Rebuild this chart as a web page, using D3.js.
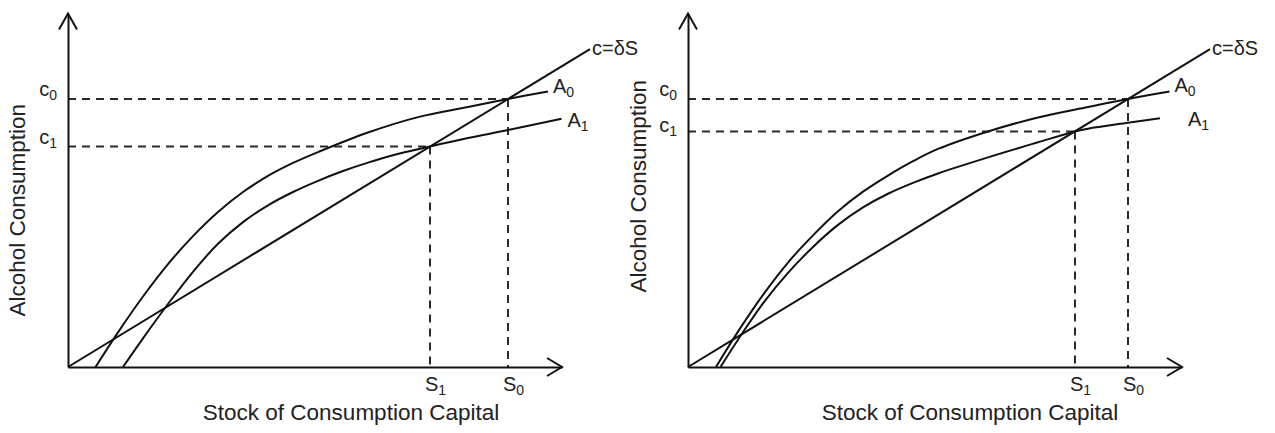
<!DOCTYPE html>
<html>
<head>
<meta charset="utf-8">
<script src="https://cdn.jsdelivr.net/npm/d3@7"></script>
<style>
  html, body { margin: 0; padding: 0; background: #fff; }
  svg { display: block; }
  text { font-family: "Liberation Sans", Arial, sans-serif; fill: #222; }
</style>
</head>
<body>
<svg id="chart" width="1275" height="433"></svg>
<script>
// Shared model: consumption line c = δS and the two addiction curves A0, A1
const delta = 0.87;
const lineEnd = 10.44;          // where the c = δS ray stops
const xMax = 9.88;              // length of the stock axis
const yMax = 10.1;              // height of the consumption axis

// Left panel: large downward shift of A
const leftS = [7.24, 8.8];                 // S1, S0
const leftC = [6.3, 7.66];                 // c1, c0
const leftA0x = [0.55, 1.0, 1.5, 2.0, 2.5, 3.0, 3.5, 4.0, 4.5, 5.0, 6.0, 7.0, 8.0, 8.8, 9.6];
const leftA0y = [0, 0.99, 2.015, 2.94, 3.74, 4.43, 5.0, 5.46, 5.83, 6.14, 6.7, 7.14, 7.43, 7.66, 7.87];
const leftA1x = [1.1, 1.5, 2.0, 2.5, 3.0, 3.5, 4.0, 4.5, 5.0, 5.5, 6.0, 6.5, 7.0, 7.24, 8.0, 8.8, 9.87];
const leftA1y = [0, 0.82, 1.8, 2.72, 3.52, 4.14, 4.62, 5.0, 5.32, 5.6, 5.84, 6.05, 6.22, 6.3, 6.54, 6.77, 7.09];

// Right panel: small downward shift of A
const rightS = [7.74, 8.8];
const rightC = [6.73, 7.66];
const rightA0x = [0.56, 1.0, 1.5, 2.0, 2.5, 3.0, 3.5, 4.0, 4.5, 5.0, 6.0, 7.0, 8.0, 8.8, 9.63];
const rightA0y = [0, 1.01, 2.06, 2.985, 3.76, 4.45, 5.01, 5.47, 5.88, 6.23, 6.73, 7.13, 7.43, 7.66, 7.87];
const rightA1x = [0.65, 1.0, 1.5, 2.0, 2.5, 3.0, 3.5, 4.0, 4.5, 5.0, 6.0, 7.0, 7.74, 8.0, 8.8, 9.44];
const rightA1y = [0, 0.78, 1.82, 2.69, 3.43, 4.06, 4.56, 4.95, 5.26, 5.53, 5.99, 6.42, 6.73, 6.81, 6.98, 7.11];

const sLabels = ["1", "0"];   // subscripts for S1, S0
const cLabels = ["1", "0"];   // subscripts for c1, c0
const curveNames = ["0", "1"];
const yTitle = "Alcohol Consumption";
const xTitle = "Stock of Consumption Capital";
const lineName = "c=δS";

const svg = d3.select("#chart");

const x = d3.scaleLinear().domain([0, 10]).range([0, 500]);
const y = d3.scaleLinear().domain([0, 10]).range([0, -350]);

const ink = "#111";
const dashInk = "#2a2a2a";
const labelSize = 20, subSize = 14, titleSize = 22.5;

function drawPanel(ox, oy, S, C, A0x, A0y, A1x, A1y, opt) {
  const g = svg.append("g").attr("transform", `translate(${ox},${oy})`);

  // dashed guides from the equilibria to both axes
  S.forEach((s, i) => {
    g.append("line")
      .attr("x1", x(0)).attr("x2", x(s))
      .attr("y1", y(C[i])).attr("y2", y(C[i]))
      .attr("stroke", dashInk).attr("stroke-width", 2).attr("stroke-dasharray", "8,6");
    g.append("line")
      .attr("x1", x(s)).attr("x2", x(s))
      .attr("y1", y(C[i])).attr("y2", y(0))
      .attr("stroke", dashInk).attr("stroke-width", 2).attr("stroke-dasharray", "8,6");
  });

  // axes
  const xs = x.copy().domain([0, xMax]).range([x(0), x(xMax)]);
  const ys = y.copy().domain([0, yMax]).range([y(0), y(yMax)]);
  const xAxis = g.append("g")
    .call(d3.axisBottom(xs).tickValues(S).tickSize(0).tickSizeOuter(0).tickFormat(""));
  const yAxis = g.append("g")
    .call(d3.axisLeft(ys).tickValues(C).tickSize(0).tickSizeOuter(0).tickFormat(""));
  [xAxis, yAxis].forEach(a => {
    a.select(".domain").attr("stroke", ink).attr("stroke-width", 2);
    a.selectAll("text").remove();
  });

  // tick labels with subscripts
  xAxis.selectAll(".tick").each(function(d, i) {
    const t = d3.select(this).append("text")
      .attr("y", 24).attr("x", 5).attr("text-anchor", "middle")
      .attr("font-size", labelSize);
    t.append("tspan").text("S");
    t.append("tspan").attr("font-size", subSize).attr("dy", 4).text(sLabels[i]);
  });
  yAxis.selectAll(".tick").each(function(d, i) {
    const t = d3.select(this).append("text")
      .attr("x", -11).attr("y", -3 + opt.cLabelDy[i]).attr("text-anchor", "end")
      .attr("font-size", labelSize);
    t.append("tspan").text("c");
    t.append("tspan").attr("font-size", subSize).attr("dy", 4).text(cLabels[i]);
  });

  // arrowheads
  const arrow = d3.line();
  g.append("path")
    .attr("d", arrow([[x(xMax) - 15, -9], [x(xMax), 0], [x(xMax) - 15, 9]]))
    .attr("fill", "none").attr("stroke", ink).attr("stroke-width", 2);
  g.append("path")
    .attr("d", arrow([[-9, y(yMax) + 16], [0, y(yMax)], [9, y(yMax) + 16]]))
    .attr("fill", "none").attr("stroke", ink).attr("stroke-width", 2);

  // c = δS ray
  g.append("line")
    .attr("x1", x(0)).attr("y1", y(0))
    .attr("x2", x(lineEnd)).attr("y2", y(delta * lineEnd))
    .attr("stroke", ink).attr("stroke-width", 2);
  g.append("text")
    .attr("x", x(lineEnd) + 2).attr("y", y(delta * lineEnd) + 6)
    .attr("font-size", labelSize).text(lineName);

  // addiction curves
  const path = d3.line().x(d => x(d[0])).y(d => y(d[1])).curve(d3.curveCatmullRom.alpha(0.5));
  const curves = [d3.zip(A0x, A0y), d3.zip(A1x, A1y)];
  curves.forEach((pts, i) => {
    g.append("path").attr("d", path(pts))
      .attr("fill", "none").attr("stroke", ink).attr("stroke-width", 2);
    const last = pts[pts.length - 1];
    const t = g.append("text")
      .attr("x", x(last[0]) + opt.labelDx[i]).attr("y", y(last[1]) + opt.labelDy[i])
      .attr("font-size", labelSize);
    t.append("tspan").text("A");
    t.append("tspan").attr("font-size", subSize).attr("dy", 4).text(curveNames[i]);
  });

  // axis titles
  g.append("text")
    .attr("transform", `translate(${opt.yTitleX},${y(yMax / 2) + opt.yTitleDy}) rotate(-90)`)
    .attr("text-anchor", "middle").attr("font-size", titleSize).text(yTitle);
  g.append("text")
    .attr("x", opt.xTitleX).attr("y", 53)
    .attr("text-anchor", "middle").attr("font-size", titleSize).text(xTitle);
}

drawPanel(68, 367, leftS, leftC, leftA0x, leftA0y, leftA1x, leftA1y,
  { labelDx: [5, 6], labelDy: [1, 8], cLabelDy: [0, 0], yTitleX: -43, yTitleDy: 20, xTitleX: 283 });
drawPanel(688, 367, rightS, rightC, rightA0x, rightA0y, rightA1x, rightA1y,
  { labelDx: [5, 28], labelDy: [0, 8], cLabelDy: [3, 0], yTitleX: -42, yTitleDy: -4, xTitleX: 282 });
</script>
</body>
</html>
